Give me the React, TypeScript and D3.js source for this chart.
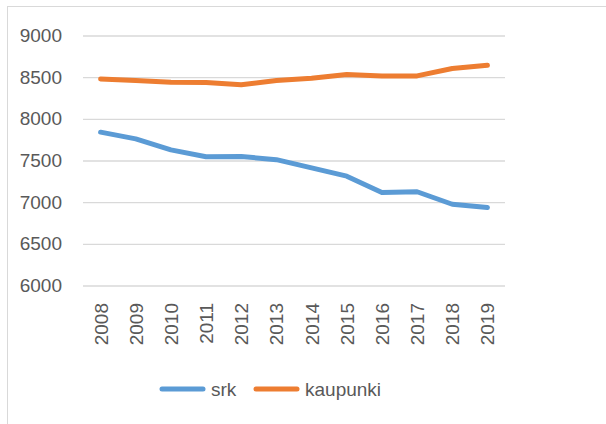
import * as d3 from "d3";
import { useEffect, useRef } from "react";

const years = ["2008", "2009", "2010", "2011", "2012", "2013", "2014", "2015", "2016", "2017", "2018", "2019"];
const srk = [7840, 7760, 7628, 7545, 7548, 7510, 7412, 7312, 7115, 7125, 6975, 6935];
const kaupunki = [8478, 8460, 8438, 8436, 8410, 8460, 8486, 8532, 8515, 8515, 8604, 8642];
const yTicks = [6000, 6500, 7000, 7500, 8000, 8500, 9000];
const seriesNames = ["srk", "kaupunki"];
const colors = ["#5B9BD5", "#ED7D31"];

const WIDTH = 606;
const HEIGHT = 424;
const FONT = "'Liberation Sans', Arial, sans-serif";
const FS = 19;

const App = () => {
  const ref = useRef<SVGSVGElement>(null);

  useEffect(() => {
    const svg = d3.select(ref.current);
    svg.selectAll("*").remove();

    // outer chart frame
    svg.append("rect")
      .attr("x", 7.5).attr("y", 6.5)
      .attr("width", 640).attr("height", 440)
      .attr("fill", "#fff")
      .attr("stroke", "#d9d9d9");

    const x = d3.scaleBand().domain(years).range([83, 505]);
    const y = d3.scaleLinear().domain([6000, 9000]).range([285.5, 35.5]);

    const yAxis = d3.axisLeft(y).tickValues(yTicks).tickSize(-(505 - 83))
      .tickPadding(21).tickFormat(d3.format("d"));
    const gy = svg.append("g").attr("transform", "translate(83,0)").call(yAxis);
    gy.select(".domain").remove();
    gy.selectAll(".tick line").attr("stroke", "#d9d9d9").attr("stroke-width", 1.3);
    gy.selectAll(".tick text")
      .attr("fill", "#595959")
      .attr("font-family", FONT)
      .attr("font-size", FS);

    const xAxis = d3.axisBottom(x).tickSize(0).tickPadding(0);
    const gx = svg.append("g").attr("transform", "translate(0,285)").call(xAxis);
    gx.select(".domain").remove();
    gx.selectAll(".tick text")
      .attr("fill", "#595959")
      .attr("font-family", FONT)
      .attr("font-size", FS)
      .attr("text-anchor", "end")
      .attr("dy", null)
      .attr("transform", "translate(7,18) rotate(-90)");

    const lineGen = d3.line<number>()
      .x((d, i) => (x(years[i]) as number) + x.bandwidth() / 2)
      .y(d => y(d));

    [srk, kaupunki].forEach((data, i) => {
      svg.append("path")
        .attr("d", lineGen(data))
        .attr("fill", "none")
        .attr("stroke", colors[i])
        .attr("stroke-width", 5)
        .attr("stroke-linecap", "round")
        .attr("stroke-linejoin", "round");
    });

    // legend
    const legendX = [162, 256];
    seriesNames.forEach((name, i) => {
      svg.append("line")
        .attr("x1", legendX[i]).attr("x2", legendX[i] + 41)
        .attr("y1", 389).attr("y2", 389)
        .attr("stroke", colors[i])
        .attr("stroke-width", 5)
        .attr("stroke-linecap", "round");
      svg.append("text")
        .attr("x", legendX[i] + 49)
        .attr("y", 396)
        .attr("fill", "#595959")
        .attr("font-family", FONT)
        .attr("font-size", FS)
        .text(name);
    });
  });

  return (
    <svg ref={ref} width={WIDTH} height={HEIGHT}
      style={{ position: "absolute", left: 0, top: 0, background: "#fff" }} />
  );
};

export default App;
